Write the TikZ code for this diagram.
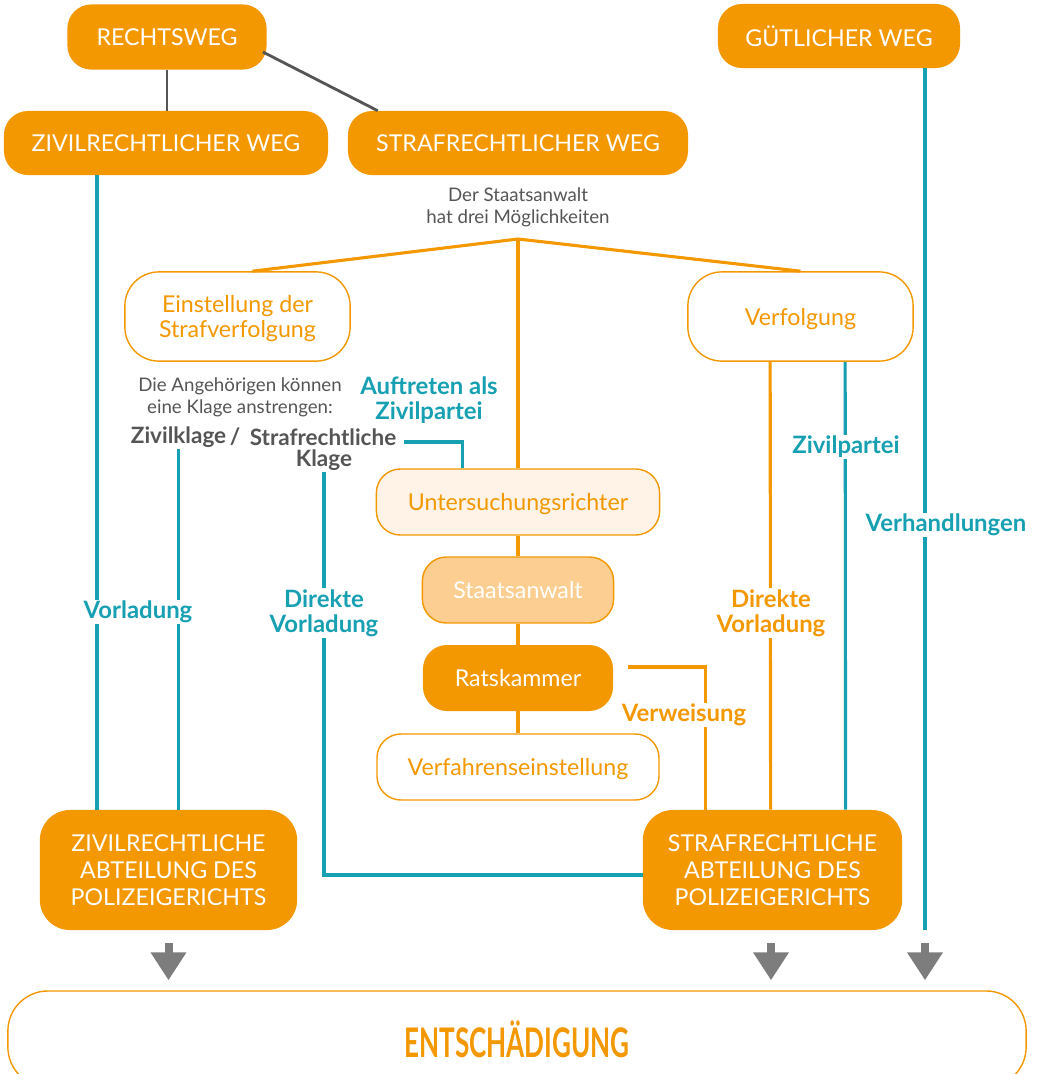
\documentclass[tikz,border=0pt]{standalone}
\usepackage{fontspec}
\setmainfont{Lato}
\usepackage{graphicx}
\usetikzlibrary{positioning}
\usetikzlibrary{calc}
\usetikzlibrary{arrows.meta}
\definecolor{orange}{RGB}{243,152,0}
\definecolor{teal}{RGB}{22,160,178}
\definecolor{lightorange}{RGB}{252,206,145}
\definecolor{paleorange}{RGB}{254,243,230}
\definecolor{darkgray}{RGB}{85,85,85}
\definecolor{arrowgray}{RGB}{125,125,125}

\begin{document}
\begin{tikzpicture}[x=0.025cm, y=-0.025cm,
  box/.style={rectangle, rounded corners=0.6cm, align=center, inner sep=2pt,
    text depth=0pt, font=\fontsize{16.5}{19}\selectfont},
  fullbox/.style={box, fill=orange, text=white},
  openbox/.style={box, draw=orange, line width=1pt, fill=white, text=orange},
  tline/.style={teal, line width=2.2pt},
  oline/.style={orange, line width=2.2pt},
  grayline/.style={darkgray, line width=2pt},
  lab/.style={fill=white, inner sep=1pt, align=center,
    font=\bfseries\fontsize{17}{18}\selectfont},
  note/.style={text=darkgray, align=center, font=\fontsize{13.3}{15.5}\selectfont},
  klage/.style={text=darkgray, inner sep=1pt, font=\bfseries\fontsize{16}{17}\selectfont},
  bigarrow/.style={arrowgray, line width=0.2cm,
    -{Triangle[length=0.7cm,width=0.85cm]},
    shorten <=0.325cm, shorten >=0.25cm}]

\useasboundingbox (0,0) rectangle (1042,1074);

%---------------------------------------
% Top: the two ways
%---------------------------------------
\node[fullbox, minimum width=4.98cm, minimum height=1.63cm] (rechtsweg) at (167,37) {RECHTSWEG};
\node[fullbox, minimum width=6.05cm, minimum height=1.6cm] (guetlich) at (839,36) {GÜTLICHER WEG};
\node[fullbox, minimum width=8.1cm, minimum height=1.6cm] (zivilweg) at (166,143) {ZIVILRECHTLICHER WEG};
\node[fullbox, minimum width=8.5cm, minimum height=1.6cm] (strafweg) at (518,143) {STRAFRECHTLICHER WEG};

\draw[grayline] (rechtsweg.south) -- (rechtsweg.south |- zivilweg.north);
\draw[grayline] ($(rechtsweg.east)+(-4,15)$) -- ($(strafweg.north west)+(30,0)$);

%---------------------------------------
% Staatsanwalt: three options
%---------------------------------------
\node[note] (drei) at (518,207) {Der Staatsanwalt\\hat drei Möglichkeiten};
\coordinate (fan) at (518,239);

\node[openbox, rounded corners=0.85cm, minimum width=5.63cm, minimum height=2.23cm,
  font=\fontsize{16.5}{17.7}\selectfont] (einst) at (237.5,316.5) {Einstellung der\\Strafverfolgung};
\node[openbox, rounded corners=0.85cm, minimum width=5.63cm, minimum height=2.23cm] (verf) at (800.5,316.5) {Verfolgung};

\node[openbox, fill=paleorange, minimum width=7.08cm, minimum height=1.65cm] (unters) at (518,502) {Untersuchungsrichter};
\node[openbox, fill=lightorange, text=white, minimum width=4.78cm, minimum height=1.65cm] (staats) at (518,590) {Staatsanwalt};
\node[fullbox, minimum width=4.75cm, minimum height=1.65cm] (rats) at (518,678) {Ratskammer};
\node[openbox, minimum width=7.05cm, minimum height=1.65cm] (verfahren) at (518,767) {Verfahrenseinstellung};

\draw[oline] (fan) -- ($(einst.north)+(15,0)$);
\draw[oline] (fan) -- (verf.north);
\draw[oline] (fan) -- (unters.north);
\draw[oline] (unters) -- (staats);
\draw[oline] (staats) -- (rats);
\draw[oline] (rats) -- (verfahren);

% Angehoerige
\node[note] (angeh) at (240,397) {Die Angehörigen können\\eine Klage anstrengen:};
\node[klage] (zivk) at (178.5,437) {Zivilklage};
\node[klage] (slash) at (235,437) {/};
\node[klage] (strk) at (323,437) {Strafrechtliche};
\node[klage] (klage) at (324,460) {Klage};

%---------------------------------------
% Bottom: the courts
%---------------------------------------
\node[fullbox, rounded corners=0.75cm, minimum width=6.43cm, minimum height=3cm,
  font=\fontsize{16.5}{19}\selectfont] (zivabt) at (168.5,870) {ZIVILRECHTLICHE\\ABTEILUNG DES\\POLIZEIGERICHTS};
\node[fullbox, rounded corners=0.75cm, minimum width=6.48cm, minimum height=3cm,
  font=\fontsize{16.5}{19}\selectfont] (strafabt) at (772.5,870) {STRAFRECHTLICHE\\ABTEILUNG DES\\POLIZEIGERICHTS};
\node[openbox, rounded corners=1cm, minimum width=25.45cm, minimum height=2.4cm] (entsch) at (517,1039)
  {\scalebox{0.64}[1]{\fontsize{29}{32}\selectfont\bfseries ENTSCHÄDIGUNG}};

% Wege nach unten
\coordinate (z1) at (97,0);
\coordinate (s1) at (771,0);
\coordinate (gend) at (925,930);
\draw[tline] (zivilweg.south -| z1) -- (zivabt.north -| z1);
\draw[tline] (zivk.south) -- (zivabt.north -| zivk.south);
\draw[tline] (klage.south) |- ($(strafabt.west)+(0,5)$);
\draw[tline] ($(strk.east)+(6,5)$) -| ($(unters.north west)+(87,0)$);
\draw[oline] ($(verf.south west)+(83,0)$) -- ($(strafabt.north west)+(128,0)$);
\draw[tline] ($(verf.south west)+(158,0)$) -- ($(strafabt.north west)+(203,0)$);
\draw[tline] (guetlich.south -| gend) -- (gend);
\draw[oline] ($(rats.east)+(15,-11)$) -| ($(strafabt.north west)+(63,0)$);

% Labels on the lines
\node[lab, text=teal] (auft) at (429,400) {Auftreten als\\Zivilpartei};
\node[lab, text=teal] (vorl) at (138,612) {Vorladung};
\node[lab, text=teal] (dvl1) at (324,613) {Direkte\\Vorladung};
\node[lab, text=orange] (dvl2) at (771,613) {Direkte\\Vorladung};
\node[lab, text=teal] (zivp) at (846,447) {Zivilpartei};
\node[lab, text=teal] (verh) at (946,525) {Verhandlungen};
\node[lab, text=orange] (verw) at (684,715) {Verweisung};

% Arrows to Entschaedigung
\draw[bigarrow] (zivabt.south) -- (entsch.north -| zivabt.south);
\draw[bigarrow] (strafabt.south -| s1) -- (entsch.north -| s1);
\draw[bigarrow] (gend) -- (entsch.north -| gend);

\end{tikzpicture}
\end{document}
